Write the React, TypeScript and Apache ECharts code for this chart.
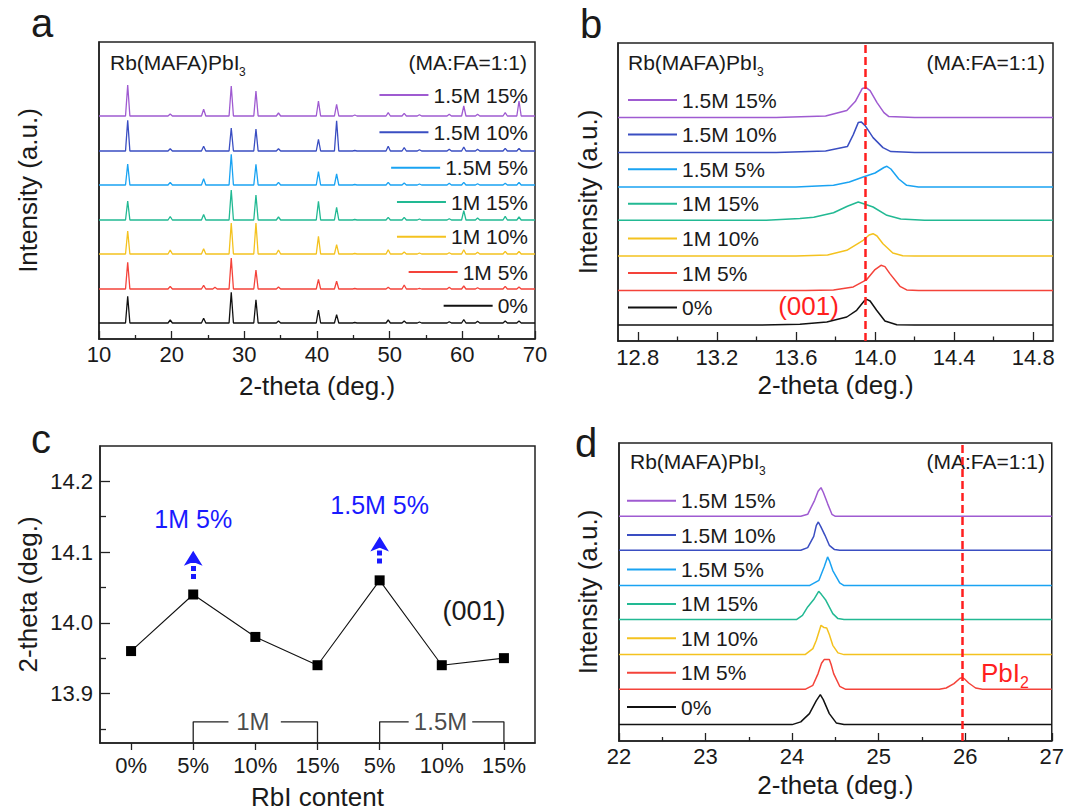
import React, { useEffect, useRef } from 'react';
import * as echarts from 'echarts';

const SAMPLES = ['0%', '1M 5%', '1M 10%', '1M 15%', '1.5M 5%', '1.5M 10%', '1.5M 15%'];
const COLORS = ['#111111', '#F4433A', '#F4C21F', '#22B993', '#1AA3F2', '#3A4EC2', '#9F5BD1'];

// ---------- panel a : full XRD patterns (peak position, peak height above offset) ----------
const A_X_RANGE = [10, 70];
const A_OFFSETS = [16, 50, 85, 119, 154, 188, 223];
const A_PEAKS = [13.95, 19.8, 24.4, 25.96, 28.2, 31.6, 34.7, 40.2, 42.7, 45.2, 49.8, 52.0, 54.1, 58.2, 60.2, 62.1, 65.9, 67.8];
const A_HEIGHTS_0PCT = [26.7, 3, 4.7, 0, 30.7, 23.3, 2, 13, 8.3, 0.5, 3, 2, 1, 1.3, 3.3, 1.7, 2, 2];
const A_HEIGHTS_1M5 = [26.7, 2.7, 3.7, 1.7, 31, 19, 2, 9.7, 7.7, 0.5, 1.7, 4, 0.7, 1.7, 3, 1.3, 2.7, 2];
const A_HEIGHTS_1M10 = [23, 4, 5.3, 0, 31, 31, 4, 17.7, 9.3, 0.5, 4.3, 2, 1, 1.3, 4.3, 1.7, 2.7, 2.7];
const A_HEIGHTS_1M15 = [19, 3.5, 5.5, 0, 30, 25, 3, 18.7, 12.7, 0.5, 2.7, 2.7, 1, 1.3, 9.3, 2, 3.7, 3];
const A_HEIGHTS_15M5 = [21, 2.7, 6.3, 0, 30.7, 20.7, 2.7, 13.3, 11, 0.5, 2.7, 2, 1, 1.7, 2.7, 1.3, 1.7, 2.7];
const A_HEIGHTS_15M10 = [30.7, 2.3, 4.7, 0, 23, 22, 2.3, 11.7, 30.3, 0.5, 4.7, 3.3, 1.3, 1.7, 4, 1.7, 2.7, 2.7];
const A_HEIGHTS_15M15 = [31, 2, 6.7, 0, 30, 25, 3, 15, 11.7, 1, 3.3, 2.7, 1.3, 1.7, 10, 1.7, 3.3, 15];
const A_HEIGHTS = [A_HEIGHTS_0PCT, A_HEIGHTS_1M5, A_HEIGHTS_1M10, A_HEIGHTS_1M15, A_HEIGHTS_15M5, A_HEIGHTS_15M10, A_HEIGHTS_15M15];

// ---------- panel b : (001) peak region ----------
const B_X_RANGE = [12.7, 14.9];
const B_X_TICKS = [12.8, 13.2, 13.6, 14.0, 14.4, 14.8];
const B_X_MINOR = [13.0, 13.4, 13.8, 14.2, 14.6];
const B_OFFSETS = [16, 50.4, 85, 120.7, 154, 188.4, 223.4];
const B_PROFILE_0PCT = [[13.4, 0], [13.62, 0.7], [13.756, 3], [13.857, 8], [13.907, 14.7], [13.945, 24], [13.958, 25.7], [13.975, 24], [14.008, 14.7], [14.05, 4], [14.11, 0.3], [14.2, 0]];
const B_PROFILE_1M5 = [[13.65, 0], [13.79, 0.7], [13.89, 3.7], [13.958, 11], [14.0, 21], [14.03, 25.3], [14.05, 24], [14.075, 17], [14.126, 4.3], [14.16, 0.7], [14.22, 0]];
const B_PROFILE_1M10 = [[13.6, 0], [13.76, 1], [13.857, 5.7], [13.94, 15.7], [13.97, 21], [13.99, 22.3], [14.01, 20], [14.04, 12.3], [14.09, 3], [14.14, 0.3], [14.2, 0]];
const B_PROFILE_1M15 = [[13.45, 0], [13.62, 1.7], [13.69, 3], [13.79, 7.5], [13.86, 14], [13.915, 18.3], [13.95, 16], [13.99, 13.3], [14.06, 5], [14.13, 1.3], [14.25, 0]];
const B_PROFILE_15M5 = [[13.6, 0], [13.79, 1.7], [13.87, 5], [13.94, 10], [14.0, 14], [14.045, 19.5], [14.06, 20.7], [14.08, 18], [14.12, 8], [14.16, 1.7], [14.22, 0]];
const B_PROFILE_15M10 = [[13.5, 0], [13.75, 1.5], [13.86, 6], [13.89, 18], [13.915, 30], [13.93, 30.7], [13.95, 27], [13.99, 15], [14.04, 5], [14.08, 1], [14.2, 0]];
const B_PROFILE_15M15 = [[13.5, 0], [13.75, 1.5], [13.857, 7], [13.9, 16], [13.935, 29], [13.955, 30], [13.975, 27], [14.01, 15], [14.045, 5], [14.07, 1], [14.2, 0]];
const B_PROFILES = [B_PROFILE_0PCT, B_PROFILE_1M5, B_PROFILE_1M10, B_PROFILE_1M15, B_PROFILE_15M5, B_PROFILE_15M10, B_PROFILE_15M15];
const B_REF_LINE = 13.95;

// ---------- panel c : (001) peak position ----------
const C_CATEGORIES = ['0%', '5%', '10%', '15%', '5%', '10%', '15%'];
const C_VALUES = [13.96, 14.04, 13.98, 13.94, 14.06, 13.94, 13.95];
const C_Y_RANGE = [13.83, 14.25];
const C_Y_TICKS = [13.9, 14.0, 14.1, 14.2];
const C_Y_MINOR = [13.85, 13.95, 14.05, 14.15];
const C_ARROW_LABELS = ['1M 5%', '1.5M 5%'];
const C_ARROW_SHAFTS = [[[1, 14.062], [1, 14.092]], [[4, 14.084], [4, 14.112]]];
const C_ARROW_HEADS = [[1, 14.102], [4, 14.122]];
const C_GROUP_LABELS = ['1M', '1.5M'];
const C_GROUP_LABEL_POS = [[1.96, 13.86], [4.98, 13.86]];
const C_BRACKETS = [
  [[1, 13.83], [1, 13.86], [1.567, 13.86]],
  [[2.41, 13.86], [3, 13.86], [3, 13.83]],
  [[4, 13.83], [4, 13.86], [4.467, 13.86]],
  [[5.49, 13.86], [6, 13.86], [6, 13.83]],
];

// ---------- panel d : 22-27 deg region ----------
const D_X_RANGE = [22, 27];
const D_OFFSETS = [16.4, 51.7, 86.4, 121.4, 155.4, 190.7, 224.7];
const D_PROFILE_0PCT = [[24.0, 0], [24.1, 2.7], [24.2, 11], [24.28, 24], [24.326, 30], [24.36, 25], [24.43, 11], [24.51, 1.7], [24.6, 0]];
const D_PROFILE_1M5 = [[24.15, 0], [24.24, 4], [24.3, 15.7], [24.34, 26], [24.37, 29.7], [24.43, 29.7], [24.45, 25], [24.48, 15.7], [24.55, 3], [24.62, 0], [25.7, 0], [25.78, 1.3], [25.87, 5.7], [25.94, 11], [25.968, 11.7], [25.99, 10.5], [26.04, 6.3], [26.12, 1.3], [26.2, 0]];
const D_PROFILE_1M10 = [[24.15, 0], [24.24, 6], [24.28, 14.3], [24.334, 29.3], [24.37, 27], [24.4, 26.7], [24.43, 20], [24.47, 9.3], [24.53, 1.7], [24.6, 0]];
const D_PROFILE_1M15 = [[24.05, 0], [24.12, 4.3], [24.18, 12.7], [24.25, 20], [24.307, 28.3], [24.34, 25], [24.39, 19.3], [24.47, 6], [24.53, 1], [24.6, 0]];
const D_PROFILE_15M5 = [[24.2, 0], [24.31, 5.3], [24.37, 18.7], [24.41, 28.7], [24.43, 25], [24.47, 15], [24.55, 2.7], [24.6, 0]];
const D_PROFILE_15M10 = [[24.1, 0], [24.18, 2.7], [24.25, 14], [24.28, 25], [24.303, 28.3], [24.33, 24], [24.38, 15], [24.43, 5], [24.49, 0.7], [24.55, 0]];
const D_PROFILE_15M15 = [[24.1, 0], [24.18, 2], [24.26, 16], [24.3, 25], [24.334, 28.7], [24.36, 24], [24.41, 12.7], [24.46, 2], [24.5, 0]];
const D_PROFILES = [D_PROFILE_0PCT, D_PROFILE_1M5, D_PROFILE_1M10, D_PROFILE_1M15, D_PROFILE_15M5, D_PROFILE_15M10, D_PROFILE_15M15];
const D_REF_LINE = 25.97;

const FONT = '"Liberation Sans", Arial, Helvetica, sans-serif';
const W = 1067;
const H = 811;
const INK = '#1a1a1a';
const AXIS_COLOR = '#222';
const RED = '#ff1f1f';
const BLUE = '#1a1aff';

function spikes(heights: number[], offset: number) {
  const pts: number[][] = [[A_X_RANGE[0], offset]];
  A_PEAKS.forEach((p, i) => {
    const h = heights[i];
    if (h > 0) pts.push([p - 0.3, offset], [p, offset + h], [p + 0.3, offset]);
  });
  pts.push([A_X_RANGE[1], offset]);
  return pts;
}

function profile(prof: number[][], offset: number, range: number[]) {
  return [[range[0], offset], ...prof.map(([x, h]) => [x, offset + h]), [range[1], offset]];
}

function buildOption() {
  const axisLine = { show: true, onZero: false, lineStyle: { color: AXIS_COLOR, width: 1.5 } };
  const noLine = { show: false, onZero: false };
  const label = { color: INK, fontSize: 22, fontFamily: FONT };
  const nameStyle = { color: INK, fontSize: 26, fontFamily: FONT };
  const tickStyle = { color: AXIS_COLOR, width: 1.3 };
  const grid = (left: number, top: number, width: number, height: number) => ({
    left, top, width, height, show: true, borderColor: AXIS_COLOR, borderWidth: 1.5, backgroundColor: 'transparent',
  });

  const xAxis: any[] = [
    {
      gridIndex: 0, type: 'value', min: A_X_RANGE[0], max: A_X_RANGE[1], interval: 10,
      axisLine, axisTick: { inside: true, length: 8, lineStyle: tickStyle },
      minorTick: { show: true, splitNumber: 2, length: 4, lineStyle: tickStyle },
      axisLabel: { ...label, margin: 4 }, splitLine: { show: false },
      name: '2-theta (deg.)', nameLocation: 'middle', nameGap: 34, nameTextStyle: nameStyle,
    },
    {
      gridIndex: 1, type: 'value', min: B_X_RANGE[0], max: B_X_RANGE[1], position: 'bottom',
      axisLine, axisTick: { inside: true, length: 9, lineStyle: tickStyle, customValues: B_X_TICKS },
      axisLabel: { ...label, margin: 5, customValues: B_X_TICKS, formatter: (v: number) => v.toFixed(1) },
      splitLine: { show: false },
      name: '2-theta (deg.)', nameLocation: 'middle', nameGap: 31, nameTextStyle: nameStyle,
    },
    {
      gridIndex: 1, type: 'value', min: B_X_RANGE[0], max: B_X_RANGE[1], position: 'bottom',
      axisLine: noLine, axisLabel: { show: false }, splitLine: { show: false },
      axisTick: { inside: true, length: 4.5, lineStyle: tickStyle, customValues: B_X_MINOR },
    },
    {
      gridIndex: 2, type: 'value', min: -0.5, max: 6.5,
      axisLine, axisTick: { inside: false, length: 7, lineStyle: tickStyle, customValues: [0, 1, 2, 3, 4, 5, 6] },
      axisLabel: { ...label, margin: 11, customValues: [0, 1, 2, 3, 4, 5, 6], formatter: (v: number) => C_CATEGORIES[Math.round(v)] },
      splitLine: { show: false },
      name: 'RbI content', nameLocation: 'middle', nameGap: 41, nameTextStyle: nameStyle,
    },
    {
      gridIndex: 3, type: 'value', min: D_X_RANGE[0], max: D_X_RANGE[1], interval: 1,
      axisLine, axisTick: { inside: true, length: 8, lineStyle: tickStyle },
      minorTick: { show: true, splitNumber: 2, length: 4, lineStyle: tickStyle },
      axisLabel: { ...label, margin: 4 }, splitLine: { show: false },
      name: '2-theta (deg.)', nameLocation: 'middle', nameGap: 31, nameTextStyle: nameStyle,
    },
  ];

  const intensityAxis = (gridIndex: number, max: number, gap: number) => ({
    gridIndex, type: 'value', min: 0, max,
    axisLine, axisTick: { show: false }, axisLabel: { show: false }, splitLine: { show: false },
    name: 'Intensity (a.u.)', nameLocation: 'middle', nameGap: gap, nameTextStyle: nameStyle,
  });

  const yAxis: any[] = [
    intensityAxis(0, 297, 58),
    intensityAxis(1, 298, 17),
    {
      gridIndex: 2, type: 'value', min: C_Y_RANGE[0], max: C_Y_RANGE[1], position: 'left',
      axisLine, axisTick: { inside: true, length: 10, lineStyle: tickStyle, customValues: C_Y_TICKS },
      axisLabel: { ...label, margin: 7, customValues: C_Y_TICKS, formatter: (v: number) => v.toFixed(1) },
      splitLine: { show: false },
      name: '2-theta (deg.)', nameLocation: 'middle', nameGap: 59, nameTextStyle: nameStyle,
    },
    {
      gridIndex: 2, type: 'value', min: C_Y_RANGE[0], max: C_Y_RANGE[1], position: 'left',
      axisLine: noLine, axisLabel: { show: false }, splitLine: { show: false },
      axisTick: { inside: true, length: 6, lineStyle: tickStyle, customValues: C_Y_MINOR },
    },
    intensityAxis(3, 298, 18),
  ];

  const series: any[] = [];
  const lineBase = { type: 'line', symbol: 'none', showSymbol: false, silent: true };

  SAMPLES.forEach((s, i) => {
    series.push({
      ...lineBase, name: 'a|' + s, xAxisIndex: 0, yAxisIndex: 0,
      data: spikes(A_HEIGHTS[i], A_OFFSETS[i]),
      lineStyle: { color: COLORS[i], width: 1.3 }, itemStyle: { color: COLORS[i] },
    });
  });
  SAMPLES.forEach((s, i) => {
    series.push({
      ...lineBase, name: 'b|' + s, xAxisIndex: 1, yAxisIndex: 1,
      data: profile(B_PROFILES[i], B_OFFSETS[i], B_X_RANGE),
      lineStyle: { color: COLORS[i], width: 1.5 }, itemStyle: { color: COLORS[i] },
      markLine: i === 0 ? {
        silent: true, symbol: 'none', label: { show: false },
        lineStyle: { color: RED, type: [8, 4], width: 2.5 },
        data: [{ xAxis: B_REF_LINE }],
      } : undefined,
    });
  });

  series.push({
    type: 'line', name: 'c', xAxisIndex: 3, yAxisIndex: 2, silent: true,
    data: C_VALUES.map((v, i) => [i, v]),
    symbol: 'rect', symbolSize: 10,
    lineStyle: { color: '#111', width: 1.1 }, itemStyle: { color: '#000' },
    markLine: {
      silent: true, symbol: 'none',
      lineStyle: { color: BLUE, width: 5, type: [5, 3] },
      label: {
        show: true, position: 'end', distance: 26, color: BLUE, fontSize: 25, fontFamily: FONT,
        formatter: (p: any) => C_ARROW_LABELS[p.dataIndex],
      },
      data: C_ARROW_SHAFTS.map(([a, b]) => [{ coord: a }, { coord: b }]),
    },
    markPoint: {
      silent: true, symbol: 'arrow', symbolSize: [14, 15],
      itemStyle: { color: BLUE }, label: { show: false },
      data: C_ARROW_HEADS.map((c) => ({ coord: c })),
    },
  });
  C_BRACKETS.forEach((b, k) => {
    series.push({
      ...lineBase, name: 'bracket' + k, xAxisIndex: 3, yAxisIndex: 2, data: b,
      lineStyle: { color: '#222', width: 1.3 },
    });
  });
  series.push({
    type: 'scatter', name: 'groups', xAxisIndex: 3, yAxisIndex: 2, silent: true,
    data: C_GROUP_LABEL_POS, symbolSize: 0,
    label: {
      show: true, position: 'inside', color: INK, fontSize: 24, fontFamily: FONT,
      formatter: (p: any) => C_GROUP_LABELS[p.dataIndex],
    },
  });

  SAMPLES.forEach((s, i) => {
    series.push({
      ...lineBase, name: 'd|' + s, xAxisIndex: 4, yAxisIndex: 4,
      data: profile(D_PROFILES[i], D_OFFSETS[i], D_X_RANGE),
      lineStyle: { color: COLORS[i], width: 1.5 }, itemStyle: { color: COLORS[i] },
      markLine: i === 0 ? {
        silent: true, symbol: 'none', label: { show: false },
        lineStyle: { color: RED, type: [8, 4], width: 2.5 },
        data: [{ xAxis: D_REF_LINE }],
      } : undefined,
    });
  });

  const legendText = { fontSize: 21, lineHeight: 24, color: INK, fontFamily: FONT };
  const strip = (n: string) => n.split('|')[1];
  const legendCommon = {
    padding: 0, itemWidth: 49, itemHeight: 14, textStyle: legendText, formatter: strip,
    selectedMode: false, itemStyle: { opacity: 0 },
  };
  const aLegendY = [305.7, 272, 236.7, 202, 167.7, 132.3, 95];
  const legend: any[] = SAMPLES.map((s, i) => ({
    ...legendCommon, data: ['a|' + s], right: W - 528, top: aLegendY[i] - 12,
  }));
  const reversed = [...SAMPLES].reverse();
  legend.push({
    ...legendCommon, data: reversed.map((s) => 'b|' + s), orient: 'vertical', left: 627, top: 88, itemGap: 10.6,
  });
  legend.push({
    ...legendCommon, data: reversed.map((s) => 'd|' + s), orient: 'vertical', left: 626, top: 488.7, itemGap: 10.4,
  });

  const txt = (text: string, x: number, y: number, fontSize: number, extra: any = {}) => ({
    type: 'text', x, y, silent: true,
    style: { text, fontSize, fontFamily: FONT, fill: INK, verticalAlign: 'middle', align: 'left', ...extra },
  });

  const graphic: any[] = [
    txt('a', 31, 23, 40),
    txt('b', 580, 24, 40),
    txt('c', 31, 439, 40),
    txt('d', 575, 443, 40),
    txt('Rb(MAFA)PbI', 110, 62, 21),
    txt('3', 239, 72, 12),
    txt('(MA:FA=1:1)', 527, 62, 21, { align: 'right' }),
    txt('Rb(MAFA)PbI', 628, 62, 21),
    txt('3', 757, 72, 12),
    txt('(MA:FA=1:1)', 1045, 62, 21, { align: 'right' }),
    txt('Rb(MAFA)PbI', 630, 461, 21),
    txt('3', 759, 471, 12),
    txt('(MA:FA=1:1)', 1045, 461, 21, { align: 'right' }),
    txt('(001)', 808.5, 306, 26, { align: 'center', fill: RED }),
    txt('(001)', 474, 611, 27, { align: 'center' }),
    txt('PbI', 981, 673, 26, { fill: RED }),
    txt('2', 1020, 682, 16, { fill: RED }),
  ];

  return {
    animation: false,
    backgroundColor: '#ffffff',
    textStyle: { fontFamily: FONT },
    grid: [
      grid(99, 42, 436, 297),
      grid(618, 43, 435, 298),
      grid(100, 446, 435, 298),
      grid(619, 443, 434, 298),
    ],
    xAxis, yAxis, series, legend, graphic,
  };
}

export default function App() {
  const ref = useRef<HTMLDivElement>(null);
  useEffect(() => {
    document.body.style.margin = '0';
    if (!ref.current) return;
    const chart = echarts.init(ref.current, undefined, { renderer: 'svg' });
    chart.setOption(buildOption() as any);
    return () => chart.dispose();
  }, []);
  return <div ref={ref} style={{ width: W, height: H }} />;
}
